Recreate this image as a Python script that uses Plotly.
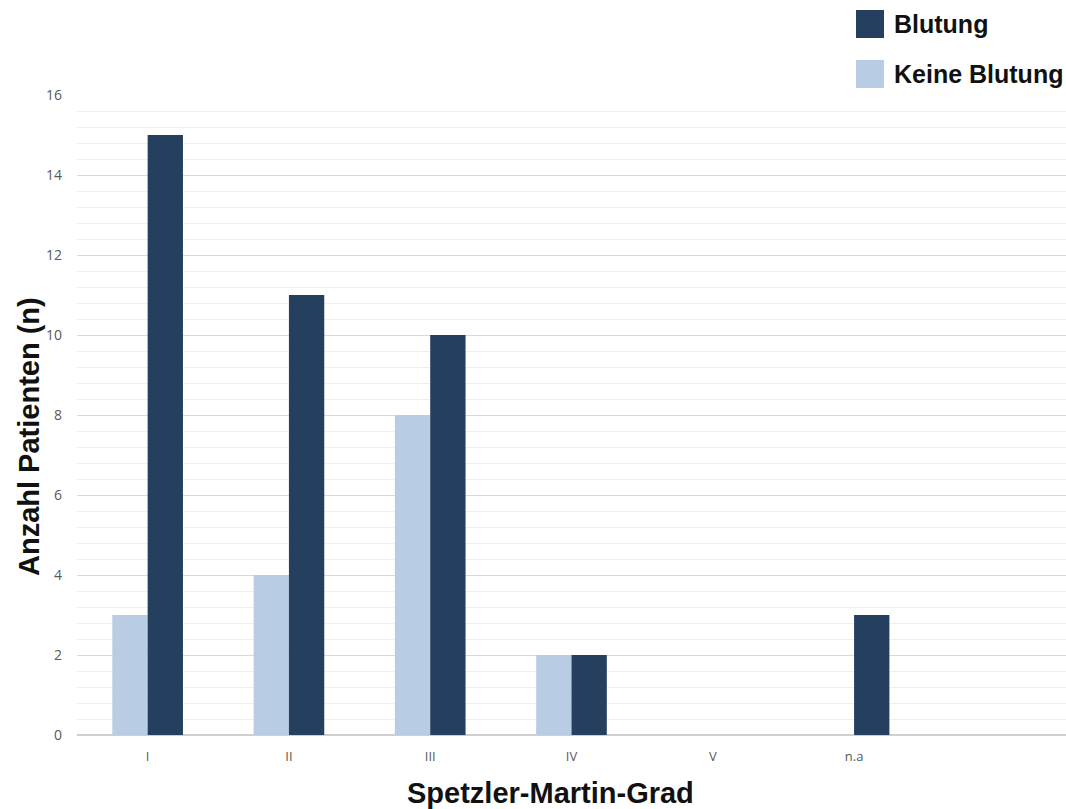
import plotly.graph_objects as go

# Spetzler-Martin grades and patient counts
grades = ["I", "II", "III", "IV", "V", "n.a"]
keine_blutung = [3, 4, 8, 2, 0, 0]
blutung = [15, 11, 10, 2, 0, 3]

y_ticks = [0, 2, 4, 6, 8, 10, 12, 14, 16]

DARK = "#253f5e"
LIGHT = "#b8cce4"

W, H = 1066, 809
L, R, T, B = 77, 0, 95, 74
PW, PH = W - L - R, H - T - B


def px_x(x):
    return (x - L) / PW


def px_y(y):
    return (H - B - y) / PH


fig = go.Figure()
fig.add_trace(go.Bar(x=grades, y=keine_blutung, name="Keine Blutung",
                     marker=dict(color=LIGHT, line=dict(width=0))))
fig.add_trace(go.Bar(x=grades, y=blutung, name="Blutung",
                     marker=dict(color=DARK, line=dict(width=0))))

fig.update_layout(
    width=W, height=H,
    margin=dict(l=L, r=R, t=T, b=B),
    paper_bgcolor="white", plot_bgcolor="white",
    barmode="group", bargap=0.5, bargroupgap=0,
    showlegend=False,
    font=dict(family="Open Sans", color="#595959", size=14),
)

fig.update_xaxes(
    type="category", range=[-0.5, 6.5],
    showgrid=False, zeroline=False,
    showline=False, ticks="", ticklabelstandoff=12,
    tickfont=dict(size=13, color="#595959"),
)
fig.update_yaxes(
    range=[0, 16], tickvals=y_ticks, ticktext=[str(v) for v in y_ticks],
    showgrid=True, gridcolor="#d9d9d9", gridwidth=1,
    minor=dict(dtick=0.4, showgrid=True, gridcolor="#efefef", gridwidth=1),
    zeroline=True, zerolinecolor="#cfcfcf", zerolinewidth=1.5,
    showline=False, ticks="", ticklabelstandoff=14,
    tickfont=dict(size=14, color="#595959"),
)

title_font = dict(family="Liberation Sans", size=29, color="#111111")

# Axis titles
fig.add_annotation(text="<b>Spetzler-Martin-Grad</b>", xref="paper", yref="paper",
                   x=px_x(550), y=px_y(793), xanchor="center", yanchor="middle",
                   showarrow=False, font=title_font)
fig.add_annotation(text="<b>Anzahl Patienten (n)</b>", xref="paper", yref="paper",
                   x=px_x(29), y=px_y(437), xanchor="center", yanchor="middle",
                   textangle=-90, showarrow=False, font=title_font)

# Legend drawn as colour swatches with labels in the top-right corner
legend_items = [("Blutung", DARK, 24), ("Keine Blutung", LIGHT, 74)]
for label, color, yc in legend_items:
    fig.add_shape(type="rect", xref="paper", yref="paper",
                  x0=px_x(856), x1=px_x(884),
                  y0=px_y(yc + 14), y1=px_y(yc - 14),
                  fillcolor=color, line=dict(width=0), layer="above")
    fig.add_annotation(text=f"<b>{label}</b>", xref="paper", yref="paper",
                       x=px_x(892), y=px_y(yc), xanchor="left", yanchor="middle",
                       showarrow=False,
                       font=dict(family="Liberation Sans", size=25, color="#111111"))

fig.write_html("out.html")
